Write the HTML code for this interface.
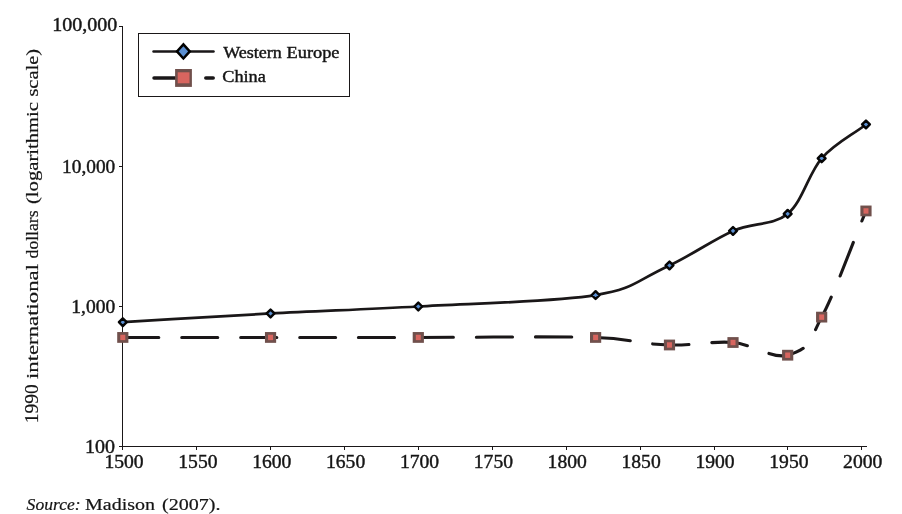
<!DOCTYPE html>
<html lang="en"><head><meta charset="utf-8"><title>GDP per capita, Western Europe and China</title>
<style>
html,body{margin:0;padding:0;background:#fff;}
body{width:902px;height:514px;overflow:hidden;}
svg{display:block;}
text{font-family:"Liberation Serif","DejaVu Serif",serif;fill:#151515;}
</style></head><body>
<svg width="902" height="514" viewBox="0 0 902 514">
<rect width="902" height="514" fill="#fff"/>
<g stroke="#1a1718" stroke-width="1" fill="none" shape-rendering="crispEdges">
<line x1="122.5" y1="26" x2="122.5" y2="450"/>
<line x1="122" y1="446.5" x2="867" y2="446.5"/>
<line x1="119" y1="446.5" x2="123" y2="446.5"/>
<line x1="119" y1="306.5" x2="123" y2="306.5"/>
<line x1="119" y1="166.5" x2="123" y2="166.5"/>
<line x1="119" y1="26.5" x2="123" y2="26.5"/>
<line x1="196.5" y1="446" x2="196.5" y2="450"/>
<line x1="270.5" y1="446" x2="270.5" y2="450"/>
<line x1="344.5" y1="446" x2="344.5" y2="450"/>
<line x1="418.5" y1="446" x2="418.5" y2="450"/>
<line x1="492.5" y1="446" x2="492.5" y2="450"/>
<line x1="566.5" y1="446" x2="566.5" y2="450"/>
<line x1="640.5" y1="446" x2="640.5" y2="450"/>
<line x1="714.5" y1="446" x2="714.5" y2="450"/>
<line x1="787.5" y1="446" x2="787.5" y2="450"/>
<line x1="861.5" y1="446" x2="861.5" y2="450"/>
</g>
<g font-size="18.5" stroke="#151515" stroke-width="0.4">
<text x="85.0" y="452.7" textLength="30.0" lengthAdjust="spacingAndGlyphs">100</text>
<text x="71.3" y="312.5" textLength="43.9" lengthAdjust="spacingAndGlyphs">1,000</text>
<text x="62.1" y="172.7" textLength="53.1" lengthAdjust="spacingAndGlyphs">10,000</text>
<text x="52.2" y="30.9" textLength="65.0" lengthAdjust="spacingAndGlyphs">100,000</text>
<text x="104.4" y="467.6" textLength="39.2" lengthAdjust="spacingAndGlyphs">1500</text>
<text x="178.3" y="467.6" textLength="39.2" lengthAdjust="spacingAndGlyphs">1550</text>
<text x="252.2" y="467.6" textLength="39.2" lengthAdjust="spacingAndGlyphs">1600</text>
<text x="326.0" y="467.6" textLength="39.2" lengthAdjust="spacingAndGlyphs">1650</text>
<text x="399.9" y="467.6" textLength="39.2" lengthAdjust="spacingAndGlyphs">1700</text>
<text x="473.8" y="467.6" textLength="39.2" lengthAdjust="spacingAndGlyphs">1750</text>
<text x="547.6" y="467.6" textLength="39.2" lengthAdjust="spacingAndGlyphs">1800</text>
<text x="621.5" y="467.6" textLength="39.2" lengthAdjust="spacingAndGlyphs">1850</text>
<text x="695.4" y="467.6" textLength="39.2" lengthAdjust="spacingAndGlyphs">1900</text>
<text x="769.3" y="467.6" textLength="39.2" lengthAdjust="spacingAndGlyphs">1950</text>
<text x="843.1" y="467.6" textLength="39.2" lengthAdjust="spacingAndGlyphs">2000</text>
<text transform="translate(38.4 423.2) rotate(-90)" font-size="18.2" stroke-width="0.2" textLength="38.8" lengthAdjust="spacingAndGlyphs">1990</text>
<text transform="translate(38.4 379.0) rotate(-90)" font-size="17.2" stroke-width="0.2" textLength="115.0" lengthAdjust="spacingAndGlyphs">international</text>
<text transform="translate(38.4 258.4) rotate(-90)" font-size="17.2" stroke-width="0.2" textLength="47.9" lengthAdjust="spacingAndGlyphs">dollars</text>
<text transform="translate(38.4 204.0) rotate(-90)" font-size="17.2" stroke-width="0.2" textLength="102.0" lengthAdjust="spacingAndGlyphs">(logarithmic</text>
<text transform="translate(38.4 96.6) rotate(-90)" font-size="17.2" stroke-width="0.2" textLength="47.6" lengthAdjust="spacingAndGlyphs">scale)</text>
</g>
<g font-size="17.3" stroke="#151515" stroke-width="0.2">
<text x="26.6" y="510.1" font-style="italic" textLength="54" lengthAdjust="spacingAndGlyphs">Source:</text>
<text x="85" y="510.1" textLength="70" lengthAdjust="spacingAndGlyphs">Madison</text>
<text x="162" y="510.1" textLength="58.5" lengthAdjust="spacingAndGlyphs">(2007).</text>
</g>
<path d="M122.80 322.19 C172.05 319.28 221.30 316.07 270.55 313.46 C319.80 310.84 364.12 309.55 418.30 306.49 C472.48 303.43 553.74 301.92 595.60 295.08 C634.88 288.66 633.41 282.28 669.48 265.45 C692.38 254.75 713.31 239.52 733.01 230.92 C752.71 222.32 772.90 225.95 787.67 213.84 C802.45 201.74 808.61 173.18 821.66 158.29 C834.71 143.39 851.21 135.73 865.98 124.45" fill="none" stroke="#1a1718" stroke-width="2.7" stroke-linecap="round" stroke-linejoin="round"/>
<path d="M122.80 337.44 C172.05 337.44 221.30 337.44 270.55 337.44 C319.80 337.44 364.12 337.44 418.30 337.44 C472.48 337.44 553.74 336.18 595.60 337.44 C632.71 338.55 632.37 343.61 669.48 344.98 C692.38 345.82 713.31 340.80 733.01 342.51 C752.71 344.21 772.90 359.43 787.67 355.20 C812.21 348.18 809.48 339.55 821.66 317.12 C834.71 293.07 851.21 246.33 865.98 210.94" fill="none" stroke="#1a1718" stroke-width="3.1" stroke-linecap="round" stroke-dasharray="36 22.95" stroke-linejoin="round"/>
<rect x="117.20" y="332.04" width="11.2" height="10.8" fill="#70504c"/><rect x="120.30" y="334.74" width="5" height="5.4" fill="#d8655f"/>
<rect x="264.95" y="332.04" width="11.2" height="10.8" fill="#70504c"/><rect x="268.05" y="334.74" width="5" height="5.4" fill="#d8655f"/>
<rect x="412.70" y="332.04" width="11.2" height="10.8" fill="#70504c"/><rect x="415.80" y="334.74" width="5" height="5.4" fill="#d8655f"/>
<rect x="590.00" y="332.04" width="11.2" height="10.8" fill="#70504c"/><rect x="593.10" y="334.74" width="5" height="5.4" fill="#d8655f"/>
<rect x="663.88" y="339.58" width="11.2" height="10.8" fill="#70504c"/><rect x="666.98" y="342.28" width="5" height="5.4" fill="#d8655f"/>
<rect x="727.41" y="337.11" width="11.2" height="10.8" fill="#70504c"/><rect x="730.51" y="339.81" width="5" height="5.4" fill="#d8655f"/>
<rect x="782.07" y="349.80" width="11.2" height="10.8" fill="#70504c"/><rect x="785.17" y="352.50" width="5" height="5.4" fill="#d8655f"/>
<rect x="816.06" y="311.72" width="11.2" height="10.8" fill="#70504c"/><rect x="819.16" y="314.42" width="5" height="5.4" fill="#d8655f"/>
<rect x="860.38" y="205.54" width="11.2" height="10.8" fill="#70504c"/><rect x="863.48" y="208.24" width="5" height="5.4" fill="#d8655f"/>
<path d="M122.80 318.29 l3.90 3.90 l-3.90 3.90 l-3.90 -3.90 z" fill="#5b8fd1" stroke="#050505" stroke-width="2.4" stroke-linejoin="round"/>
<path d="M270.55 309.56 l3.90 3.90 l-3.90 3.90 l-3.90 -3.90 z" fill="#5b8fd1" stroke="#050505" stroke-width="2.4" stroke-linejoin="round"/>
<path d="M418.30 302.59 l3.90 3.90 l-3.90 3.90 l-3.90 -3.90 z" fill="#5b8fd1" stroke="#050505" stroke-width="2.4" stroke-linejoin="round"/>
<path d="M595.60 291.18 l3.90 3.90 l-3.90 3.90 l-3.90 -3.90 z" fill="#5b8fd1" stroke="#050505" stroke-width="2.4" stroke-linejoin="round"/>
<path d="M669.48 261.55 l3.90 3.90 l-3.90 3.90 l-3.90 -3.90 z" fill="#5b8fd1" stroke="#050505" stroke-width="2.4" stroke-linejoin="round"/>
<path d="M733.01 227.02 l3.90 3.90 l-3.90 3.90 l-3.90 -3.90 z" fill="#5b8fd1" stroke="#050505" stroke-width="2.4" stroke-linejoin="round"/>
<path d="M787.67 209.94 l3.90 3.90 l-3.90 3.90 l-3.90 -3.90 z" fill="#5b8fd1" stroke="#050505" stroke-width="2.4" stroke-linejoin="round"/>
<path d="M821.66 154.39 l3.90 3.90 l-3.90 3.90 l-3.90 -3.90 z" fill="#5b8fd1" stroke="#050505" stroke-width="2.4" stroke-linejoin="round"/>
<path d="M865.98 120.55 l3.90 3.90 l-3.90 3.90 l-3.90 -3.90 z" fill="#5b8fd1" stroke="#050505" stroke-width="2.4" stroke-linejoin="round"/>
<rect x="138.5" y="33.5" width="211" height="63" fill="#fff" stroke="#1a1718" stroke-width="1" shape-rendering="crispEdges"/>
<line x1="153.5" y1="51.4" x2="213.5" y2="51.4" stroke="#1a1718" stroke-width="2.5" stroke-linecap="round"/>
<path d="M183.4 44.3 l6.4 7.1 l-6.4 7.1 l-6.4 -7.1 z" fill="#5b8fd1" stroke="#000" stroke-width="2.5"/>
<line x1="154" y1="78" x2="176" y2="78" stroke="#1a1718" stroke-width="3.5" stroke-linecap="round"/>
<line x1="205.8" y1="78" x2="213.2" y2="78" stroke="#1a1718" stroke-width="3.5" stroke-linecap="round"/>
<rect x="175.1" y="69" width="16.8" height="17.9" fill="#70504c"/><rect x="177.7" y="72.3" width="11.8" height="11" fill="#d8655f"/>
<g font-size="16" stroke="#151515" stroke-width="0.4">
<text x="223.2" y="58.1" textLength="58.6" lengthAdjust="spacingAndGlyphs">Western</text>
<text x="286.5" y="58.1" textLength="53" lengthAdjust="spacingAndGlyphs">Europe</text>
<text x="222.3" y="81.9" textLength="43.5" lengthAdjust="spacingAndGlyphs">China</text>
</g>
</svg></body></html>
